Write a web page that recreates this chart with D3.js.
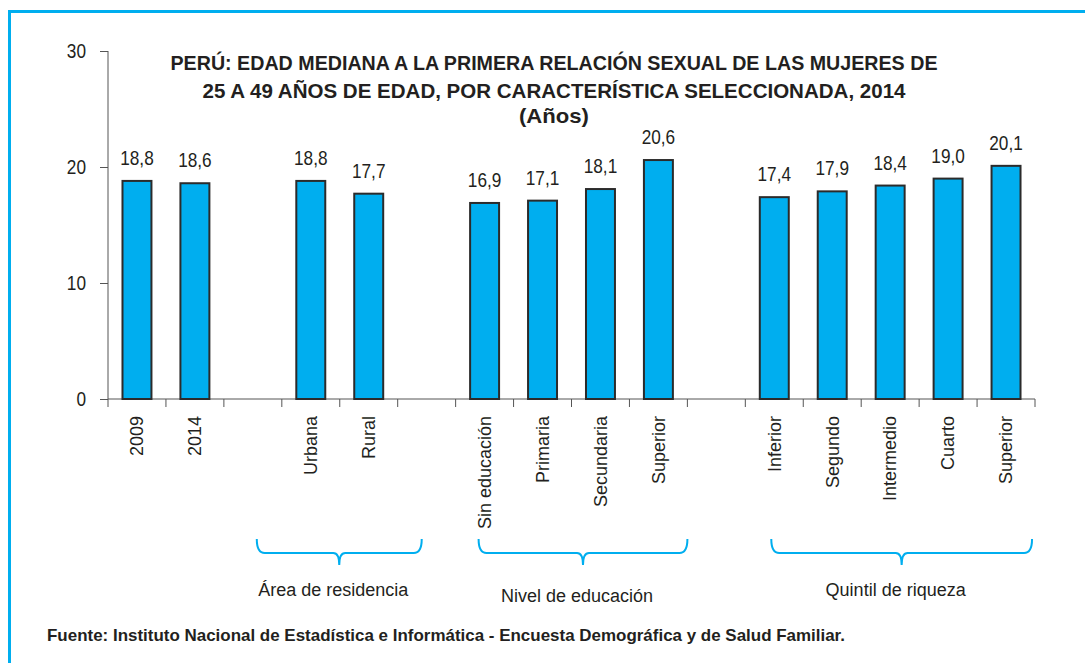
<!DOCTYPE html>
<html>
<head>
<meta charset="utf-8">
<script src="https://cdn.jsdelivr.net/npm/d3@7"></script>
<style>
  body { margin: 0; background: #fff; }
  text { font-family: "Liberation Sans", Arial, sans-serif; fill: #231f20; }
  .title { font-weight: bold; font-size: 21px; }
  .axis path, .axis line { stroke: #555; }
</style>
</head>
<body>
<div id="chart"></div>
<script>
// slots of the x axis, "" = empty gap between groups
var categories = ["2009", "2014", "", "Urbana", "Rural", "", "Sin educación", "Primaria", "Secundaria", "Superior", "", "Inferior", "Segundo", "Intermedio", "Cuarto", "Superior"];
var values = [18.8, 18.6, null, 18.8, 17.7, null, 16.9, 17.1, 18.1, 20.6, null, 17.4, 17.9, 18.4, 19.0, 20.1];
var yTicks = [0, 10, 20, 30];

var groupNames = ["Área de residencia", "Nivel de educación", "Quintil de riqueza"];
var groupFirst = [3, 6, 11];
var groupLast = [4, 9, 15];

var titleLines = [
  "PERÚ: EDAD MEDIANA A LA PRIMERA RELACIÓN SEXUAL DE LAS MUJERES DE",
  "25 A 49 AÑOS DE EDAD, POR CARACTERÍSTICA SELECCIONADA, 2014",
  "(Años)"
];
var source = "Fuente: Instituto Nacional de Estadística e Informática - Encuesta Demográfica y de  Salud Familiar.";

var W = 1085, H = 663;
var plot = {left: 108, right: 1035, top: 51, bottom: 399};
var narrow = 0.82; // fake "Arial Narrow"

var svg = d3.select("#chart").append("svg")
    .attr("width", W)
    .attr("height", H);

// frame
svg.append("rect")
    .attr("x", 9.5).attr("y", 11.5)
    .attr("width", W + 20).attr("height", H + 20)
    .attr("fill", "none")
    .attr("stroke", "#00aeef")
    .attr("stroke-width", 3);

var idx = d3.range(categories.length);

var x = d3.scaleBand()
    .domain(idx)
    .range([plot.left, plot.right])
    .paddingInner(0.5)
    .paddingOuter(0.25);

var y = d3.scaleLinear()
    .domain([0, 30])
    .range([plot.bottom, plot.top]);

// y axis
var yAxis = d3.axisLeft(y).tickValues(yTicks).tickSize(8).tickPadding(14).tickFormat(d3.format("d"));
svg.append("g")
    .attr("class", "axis")
    .attr("transform", `translate(${plot.left},0)`)
    .call(yAxis)
    .call(g => g.select(".domain").attr("d", `M0,${plot.top}V${plot.bottom}`))
    .selectAll("text")
        .style("font-size", "21px")
        .attr("fill", "#231f20")
        .attr("x", -22 / narrow)
        .attr("transform", `scale(${narrow},1)`);

// x axis line + ticks at slot borders
var step = x.step();
var xg = svg.append("g").attr("class", "axis");
xg.append("line")
    .attr("x1", plot.left).attr("x2", plot.right)
    .attr("y1", plot.bottom).attr("y2", plot.bottom);
xg.selectAll(".xt")
    .data(d3.range(categories.length + 1))
    .join("line")
    .attr("class", "xt")
    .attr("x1", d => plot.left + d * step)
    .attr("x2", d => plot.left + d * step)
    .attr("y1", plot.bottom)
    .attr("y2", plot.bottom + 8);

// bars
var barData = idx.filter(i => values[i] != null);
svg.selectAll(".bar")
    .data(barData)
    .join("rect")
    .attr("class", "bar")
    .attr("x", i => x(i))
    .attr("width", x.bandwidth())
    .attr("y", i => y(values[i]))
    .attr("height", i => y(0) - y(values[i]))
    .attr("fill", "#00aeef")
    .attr("stroke", "#2b2b2b")
    .attr("stroke-width", 2);

// value labels
svg.selectAll(".val")
    .data(barData)
    .join("text")
    .attr("class", "val")
    .attr("x", i => (x(i) + x.bandwidth() / 2) / narrow)
    .attr("y", i => y(values[i]) - 16)
    .attr("transform", `scale(${narrow},1)`)
    .attr("text-anchor", "middle")
    .style("font-size", "21px")
    .text(i => d3.format(".1f")(values[i]).replace(".", ","));

// category labels, rotated
svg.selectAll(".cat")
    .data(barData)
    .join("text")
    .attr("class", "cat")
    .attr("text-anchor", "end")
    .attr("transform", i => `translate(${x(i) + x.bandwidth() / 2},${plot.bottom + 17}) rotate(-90)`)
    .attr("dy", "0.35em")
    .style("font-size", "18px")
    .text(i => categories[i]);

// group braces
var braceTop = 539, braceMid = 553, braceTip = 565;
var bracePadL = [54, 6, 3];
var bracePadR = [53, 29, 26];
var labelY = [596, 602, 596];

groupNames.forEach(function(name, k) {
    var x0 = x(groupFirst[k]) + x.bandwidth() / 2 - bracePadL[k];
    var x1 = x(groupLast[k]) + x.bandwidth() / 2 + bracePadR[k];
    var cx = (x0 + x1) / 2;
    var p = d3.path();
    p.moveTo(x0, braceTop);
    p.quadraticCurveTo(x0, braceMid, x0 + 8, braceMid);
    p.lineTo(cx - 6, braceMid);
    p.quadraticCurveTo(cx, braceMid, cx, braceTip);
    p.quadraticCurveTo(cx, braceMid, cx + 6, braceMid);
    p.lineTo(x1 - 8, braceMid);
    p.quadraticCurveTo(x1, braceMid, x1, braceTop);
    svg.append("path")
        .attr("d", p.toString())
        .attr("fill", "none")
        .attr("stroke", "#00aeef")
        .attr("stroke-width", 2);

    svg.append("text")
        .attr("x", cx - 6)
        .attr("y", labelY[k])
        .attr("text-anchor", "middle")
        .style("font-size", "18px")
        .text(name);
});

// title, squeezed to the width of the original narrow font
var titleY = [70, 98, 123];
var titleW = [767, 703, 70];
svg.selectAll(".title")
    .data(titleLines)
    .join("text")
    .attr("class", "title")
    .attr("x", 554)
    .attr("y", (d, i) => titleY[i])
    .attr("text-anchor", "middle")
    .attr("textLength", (d, i) => titleW[i])
    .attr("lengthAdjust", "spacingAndGlyphs")
    .text(d => d);

// source
svg.append("text")
    .attr("x", 47)
    .attr("y", 641)
    .attr("textLength", 798)
    .attr("lengthAdjust", "spacingAndGlyphs")
    .style("font-size", "17px")
    .style("font-weight", "bold")
    .text(source);
</script>
</body>
</html>
